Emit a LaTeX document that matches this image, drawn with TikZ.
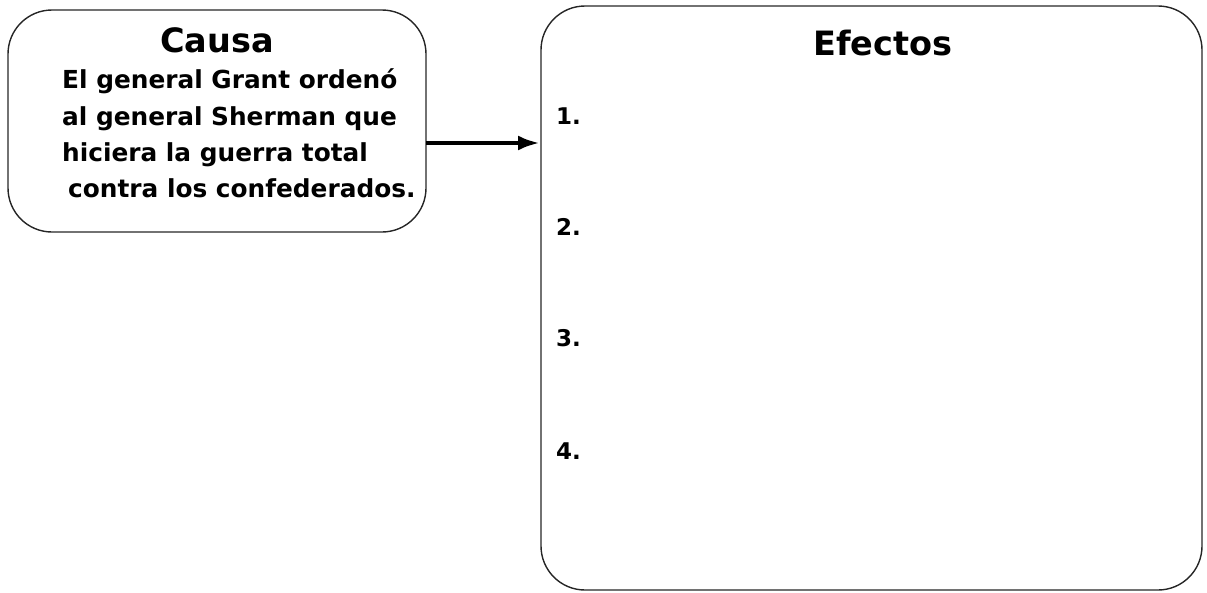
\documentclass[tikz,border=0pt]{standalone}
\usepackage{fontspec}
\setmainfont{DejaVu Sans}
\usetikzlibrary{arrows.meta}
\tikzset{
  box/.style={draw=black!85, line width=1.4pt, rounded corners=44pt},
  title/.style={font=\bfseries\fontsize{33.5}{33.5}\selectfont, inner sep=0pt},
  body/.style={font=\bfseries\fontsize{24.8}{24.8}\selectfont, inner sep=0pt, anchor=base west},
  num/.style={font=\bfseries\fontsize{23}{23}\selectfont, inner sep=0pt, anchor=base west},
  conn/.style={line width=4.5pt, -{Latex[length=22pt,width=15pt]}}
}
\begin{document}
\begin{tikzpicture}[x=1pt,y=-1pt]
\useasboundingbox (0,0) rectangle (1207,592);
\draw[box] (8,10) rectangle (426,232);
\draw[box] (541,6) rectangle (1202,590);
\node[title, anchor=base] (causa) at (217,52) {Causa};
\node[body] (l1) at (62,88) {El general Grant ordenó};
\node[body] (l2) at (62,125) {al general Sherman que};
\node[body] (l3) at (62,161) {hiciera la guerra total};
\node[body] (l4) at (68,197) {contra los confederados.};
\node[title, anchor=base] (efectos) at (883,55) {Efectos};
\node[num] (n1) at (556,124) {1.};
\node[num] (n2) at (556,235) {2.};
\node[num] (n3) at (556,346) {3.};
\node[num] (n4) at (556,459) {4.};
\coordinate (a1) at (426,143);
\coordinate (a2) at (540,143);
\draw[conn] (a1) -- (a2);
\end{tikzpicture}
\end{document}
